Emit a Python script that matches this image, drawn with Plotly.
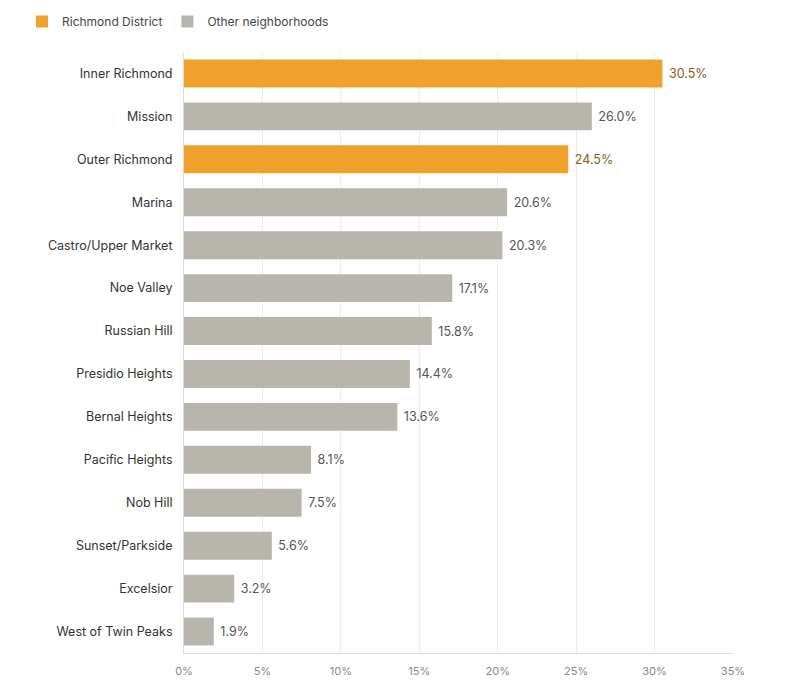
import plotly.graph_objects as go

neighborhoods = ["Inner Richmond", "Mission", "Outer Richmond", "Marina", "Castro/Upper Market",
                 "Noe Valley", "Russian Hill", "Presidio Heights", "Bernal Heights",
                 "Pacific Heights", "Nob Hill", "Sunset/Parkside", "Excelsior", "West of Twin Peaks"]
values = [30.5, 26.0, 24.5, 20.6, 20.3, 17.1, 15.8, 14.4, 13.6, 8.1, 7.5, 5.6, 3.2, 1.9]
richmond = {"Inner Richmond", "Outer Richmond"}
x_ticks = [0, 5, 10, 15, 20, 25, 30, 35]
x_tick_labels = ["0%", "5%", "10%", "15%", "20%", "25%", "30%", "35%"]

FONT = "Inter, Roboto, sans-serif"
ORANGE = "#F0A12B"
GRAY = "#B8B5AD"

rich_y = [n for n in neighborhoods if n in richmond]
rich_x = [v for n, v in zip(neighborhoods, values) if n in richmond]
oth_y = [n for n in neighborhoods if n not in richmond]
oth_x = [v for n, v in zip(neighborhoods, values) if n not in richmond]

fig = go.Figure()
fig.add_trace(go.Bar(
    y=rich_y, x=rich_x, orientation="h", name="Richmond District",
    marker=dict(color=ORANGE, line=dict(width=0)),
    texttemplate="\u00a0%{x:.1f}%", textposition="outside",
    textfont=dict(family=FONT, size=12.5, color="#8A5A14"),
    cliponaxis=False, width=0.65,
    hovertemplate="%{y}: %{x:.1f}%<extra></extra>",
))
fig.add_trace(go.Bar(
    y=oth_y, x=oth_x, orientation="h", name="Other neighborhoods",
    marker=dict(color=GRAY, line=dict(width=0)),
    texttemplate="\u00a0%{x:.1f}%", textposition="outside",
    textfont=dict(family=FONT, size=12.5, color="#555555"),
    cliponaxis=False, width=0.65,
    hovertemplate="%{y}: %{x:.1f}%<extra></extra>",
))

fig.update_layout(
    width=799, height=691,
    margin=dict(l=184, r=66, t=52, b=38),
    paper_bgcolor="white", plot_bgcolor="white",
    font=dict(family=FONT, size=12, color="#333333"),
    barmode="overlay",
    showlegend=True,
    legend=dict(orientation="h", xref="container", x=22/799, xanchor="left",
                yref="container", y=1 - 7/691, yanchor="top",
                font=dict(family=FONT, size=12, color="#444444"),
                itemwidth=30, traceorder="normal"),
    xaxis=dict(range=[0, 35], tickvals=x_ticks, ticktext=x_tick_labels,
               showgrid=True, gridcolor="#ECECEC", gridwidth=1,
               zeroline=False, showline=True, linecolor="#DDDDDD", linewidth=1,
               ticks="", ticklabelstandoff=8,
               tickfont=dict(family=FONT, size=11, color="#888888"),
               fixedrange=True),
    yaxis=dict(categoryorder="array", categoryarray=neighborhoods, autorange="reversed",
               showgrid=False, zeroline=False, showline=True, linecolor="#DDDDDD",
               ticks="", ticklabelstandoff=8,
               tickfont=dict(family=FONT, size=12.5, color="#333333"),
               fixedrange=True),
)

fig.write_html("out.html", config={"displayModeBar": False},
               post_script="document.body.style.margin='0';")
